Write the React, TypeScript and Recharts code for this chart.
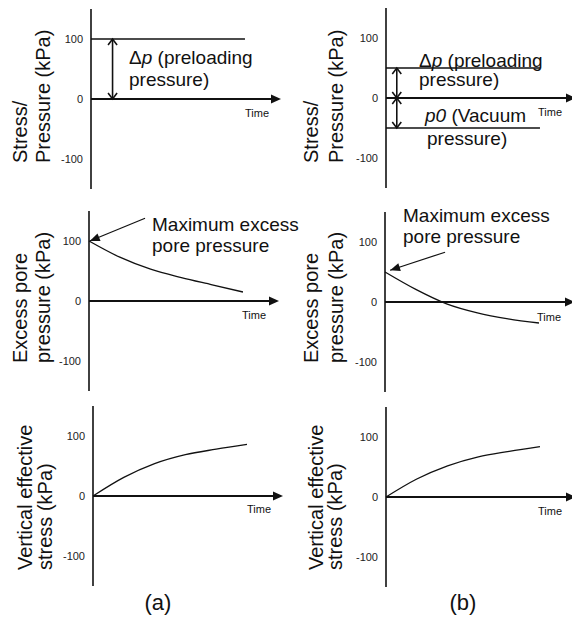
import React from "react";
import { LineChart, Line, XAxis, YAxis, ReferenceLine } from "recharts";

// time steps (arbitrary units, the curves end at t = 10)
const times = [0, 2, 4, 6, 8, 10];
const yTicks = [-100, 0, 100];

// (a) preloading only
const preloadA = [100, 100, 100, 100, 100, 100];
const excessPoreA = [100, 73, 53, 39, 27, 15];
const effectiveA = [0, 31, 54, 69, 78, 86];

// (b) preloading + vacuum
const preloadB = [50, 50, 50, 50, 50, 50];
const vacuumB = [-50, -50, -50, -50, -50, -50];
const excessPoreB = [50, 21, -3, -18, -28, -35];
const effectiveB = [0, 30, 52, 67, 76, 84];

const FONT = "'Liberation Sans', Arial, sans-serif";
const INK = "#111";
const AXIS_W = 60;
const PLOT_W = 190;
const PLOT_H = 180;
const T_MAX = 12.34;

type Pt = { x: number; y: number };

function headPts(tx: number, ty: number, fx: number, fy: number, len: number, half: number) {
  const d = Math.hypot(tx - fx, ty - fy) || 1;
  const ux = (tx - fx) / d;
  const uy = (ty - fy) / d;
  const bx = tx - ux * len;
  const by = ty - uy * len;
  return [
    [bx - uy * half, by + ux * half],
    [tx, ty],
    [bx + uy * half, by - ux * half],
  ];
}

const AxisArrow = (p: any) => {
  const h = headPts(p.x2, p.y2, p.x1, p.y1, 10, 4.5);
  return (
    <g>
      <line x1={p.x1} y1={p.y1} x2={p.x2 - 6} y2={p.y2} stroke={INK} strokeWidth={2} />
      <polygon points={h.map((q) => q.join(",")).join(" ")} fill={INK} />
    </g>
  );
};

const DoubleArrow = (p: any) => {
  const a = headPts(p.x2, p.y2, p.x1, p.y1, 6, 4.5);
  const b = headPts(p.x1, p.y1, p.x2, p.y2, 6, 4.5);
  return (
    <g fill="none" stroke={INK} strokeWidth={1.6}>
      <line x1={p.x1} y1={p.y1} x2={p.x2} y2={p.y2} />
      <polyline points={a.map((q) => q.join(",")).join(" ")} />
      <polyline points={b.map((q) => q.join(",")).join(" ")} />
    </g>
  );
};

const PointerArrow = (p: any) => {
  const h = headPts(p.x2, p.y2, p.x1, p.y1, 10, 4);
  return (
    <g>
      <line x1={p.x1} y1={p.y1} x2={p.x2} y2={p.y2} stroke={INK} strokeWidth={1.2} />
      <polygon points={h.map((q) => q.join(",")).join(" ")} fill={INK} />
    </g>
  );
};

interface PanelProps {
  axisX: number;
  zeroY: number;
  series: { key: string; values: number[] }[];
  doubles?: [Pt, Pt][];
  pointer?: [Pt, Pt];
}

function Panel({ axisX, zeroY, series, doubles = [], pointer }: PanelProps) {
  const data = times.map((t, i) => {
    const row: Record<string, number> = { t };
    series.forEach((s) => (row[s.key] = s.values[i]));
    return row;
  });

  return (
    <div style={{ position: "absolute", left: axisX - AXIS_W, top: zeroY - PLOT_H / 2 }}>
      <LineChart
        width={AXIS_W + PLOT_W}
        height={PLOT_H}
        data={data}
        margin={{ top: 0, right: 0, bottom: 0, left: 0 }}
      >
        <XAxis type="number" dataKey="t" domain={[0, T_MAX]} hide />
        <YAxis
          type="number"
          domain={[-150, 150]}
          ticks={yTicks}
          interval={0}
          width={AXIS_W}
          tickLine={false}
          tickSize={0}
          tickMargin={8}
          axisLine={{ stroke: INK, strokeWidth: 1.6 }}
          tick={{ fontSize: 11, fill: "#222", fontFamily: FONT }}
          allowDataOverflow
        />
        <ReferenceLine segment={[{ x: 0, y: 0 }, { x: T_MAX, y: 0 }]} shape={AxisArrow} />
        {series.map((s) => (
          <Line
            key={s.key}
            dataKey={s.key}
            type="monotone"
            stroke={INK}
            strokeWidth={1.3}
            dot={false}
            isAnimationActive={false}
          />
        ))}
        {doubles.map((seg, i) => (
          <ReferenceLine key={i} segment={seg} shape={DoubleArrow} />
        ))}
        {pointer && <ReferenceLine segment={pointer} shape={PointerArrow} />}
      </LineChart>
    </div>
  );
}

function VTitle({ x1, x2, y, l1, l2 }: { x1: number; x2: number; y: number; l1: string; l2: string }) {
  return (
    <g fontSize={20} fill={INK}>
      <text transform={`translate(${x1},${y}) rotate(-90)`}>{l1}</text>
      <text transform={`translate(${x2},${y}) rotate(-90)`}>{l2}</text>
    </g>
  );
}

function TimeLabel({ x, y }: { x: number; y: number }) {
  return (
    <text x={x} y={y} fontSize={11} fill={INK}>
      Time
    </text>
  );
}

export default function App() {
  return (
    <div
      style={{
        position: "absolute",
        left: 0,
        top: 0,
        width: 572,
        height: 618,
        overflow: "hidden",
        background: "#fff",
        fontFamily: FONT,
      }}
    >
      <Panel
        axisX={91}
        zeroY={99}
        series={[{ key: "preload", values: preloadA }]}
        doubles={[[{ x: 1.4, y: 0 }, { x: 1.4, y: 100 }]]}
      />
      <Panel
        axisX={386}
        zeroY={98}
        series={[
          { key: "preload", values: preloadB },
          { key: "vacuum", values: vacuumB },
        ]}
        doubles={[
          [{ x: 0.7, y: 0 }, { x: 0.7, y: 50 }],
          [{ x: 0.7, y: 0 }, { x: 0.7, y: -50 }],
        ]}
      />
      <Panel
        axisX={89}
        zeroY={301}
        series={[{ key: "u", values: excessPoreA }]}
        pointer={[{ x: 3.64, y: 138 }, { x: 0.05, y: 100 }]}
      />
      <Panel
        axisX={385}
        zeroY={302}
        series={[{ key: "u", values: excessPoreB }]}
        pointer={[{ x: 3.9, y: 83 }, { x: 0.33, y: 53 }]}
      />
      <Panel axisX={93} zeroY={496} series={[{ key: "s", values: effectiveA }]} />
      <Panel axisX={386} zeroY={497} series={[{ key: "s", values: effectiveB }]} />

      <svg
        width={572}
        height={618}
        style={{ position: "absolute", left: 0, top: 0, pointerEvents: "none" }}
        fontFamily={FONT}
      >
        <VTitle x1={27} x2={50} y={163} l1="Stress/" l2="Pressure (kPa)" />
        <VTitle x1={27} x2={50} y={363} l1="Excess pore" l2="pressure (kPa)" />
        <VTitle x1={32} x2={52} y={570} l1="Vertical effective" l2="stress (kPa)" />
        <VTitle x1={318} x2={343} y={163} l1="Stress/" l2="Pressure (kPa)" />
        <VTitle x1={318} x2={343} y={363} l1="Excess pore" l2="pressure (kPa)" />
        <VTitle x1={323} x2={342} y={570} l1="Vertical effective" l2="stress (kPa)" />

        <g fontSize={19} fill={INK}>
          <text x={129} y={64}>
            Δ<tspan fontStyle="italic">p</tspan> (preloading
          </text>
          <text x={129} y={86}>pressure)</text>

          <text x={419} y={67}>
            Δ<tspan fontStyle="italic">p</tspan> (preloading
          </text>
          <text x={419} y={86}>pressure)</text>
          <text x={425} y={122}>
            <tspan fontStyle="italic">p0</tspan> (Vacuum
          </text>
          <text x={427} y={145}>pressure)</text>

          <text x={152} y={231}>Maximum excess</text>
          <text x={152} y={252}>pore pressure</text>
          <text x={403} y={222}>Maximum excess</text>
          <text x={403} y={243}>pore pressure</text>
        </g>

        <TimeLabel x={245} y={117} />
        <TimeLabel x={538} y={116} />
        <TimeLabel x={242} y={319} />
        <TimeLabel x={537} y={321} />
        <TimeLabel x={247} y={513} />
        <TimeLabel x={538} y={515} />

        <g fontSize={22} fill={INK} textAnchor="middle">
          <text x={158} y={610}>(a)</text>
          <text x={463} y={610}>(b)</text>
        </g>
      </svg>
    </div>
  );
}
